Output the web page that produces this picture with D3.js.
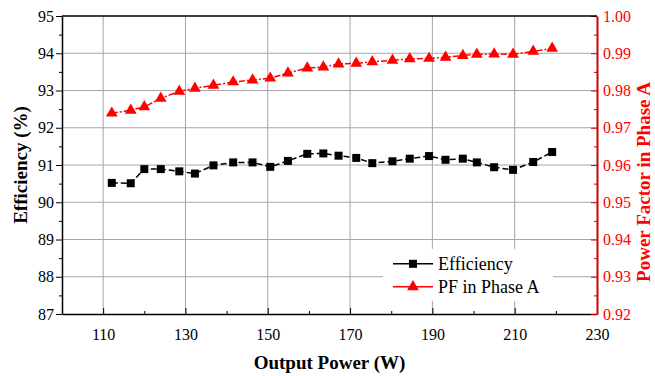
<!DOCTYPE html>
<html>
<head>
<meta charset="utf-8">
<script src="https://cdn.jsdelivr.net/npm/d3@7"></script>
<style>
  body { margin: 0; background: #fff; }
</style>
</head>
<body>
<div id="chart"></div>
<script>
// output power (W)
const power = [112.1, 116.7, 120.0, 124.0, 128.5, 132.3, 136.8, 141.6, 146.3, 150.6,
               154.9, 159.6, 163.5, 167.2, 171.5, 175.4, 180.3, 184.5, 189.2, 193.2,
               197.4, 200.8, 205.0, 209.6, 214.5, 219.1];
// efficiency (%)
const efficiency = [90.52, 90.51, 90.89, 90.89, 90.83, 90.77, 90.99, 91.07, 91.07, 90.95,
                    91.11, 91.30, 91.31, 91.25, 91.19, 91.05, 91.10, 91.17, 91.24, 91.14,
                    91.17, 91.07, 90.94, 90.87, 91.08, 91.35];
// power factor in phase A
const pf = [0.9739, 0.9747, 0.9756, 0.9779, 0.9798, 0.9806, 0.9814, 0.9823, 0.9828, 0.9833,
            0.9847, 0.9860, 0.9863, 0.9871, 0.9873, 0.9877, 0.9881, 0.9885, 0.9886, 0.9889,
            0.9894, 0.9897, 0.9898, 0.9897, 0.9905, 0.9913];

const xTicks = [110, 130, 150, 170, 190, 210, 230];
const effTicks = [87, 88, 89, 90, 91, 92, 93, 94, 95];
const pfTicks = [0.92, 0.93, 0.94, 0.95, 0.96, 0.97, 0.98, 0.99, 1.00];

const serif = 'Liberation Serif';

const width = 655, height = 376;
const margin = { top: 16, right: 58, bottom: 62, left: 62 };
const w = width - margin.left - margin.right,
      h = height - margin.top - margin.bottom;

const svg = d3.select('#chart').append('svg')
  .attr('width', width)
  .attr('height', height)
  .attr('font-family', serif);

const g = svg.append('g')
  .attr('transform', `translate(${margin.left},${margin.top})`);

const x = d3.scaleLinear().domain([100, 230]).range([0, w]);
const yL = d3.scaleLinear().domain([87, 95]).range([h, 0]);
const yR = d3.scaleLinear().domain([0.92, 1.00]).range([h, 0]);

// grid
g.append('g').selectAll('line')
  .data(xTicks.filter(d => d < 230))
  .enter().append('line')
  .attr('x1', d => x(d)).attr('x2', d => x(d))
  .attr('y1', 0).attr('y2', h)
  .attr('stroke', '#a6a6a6').attr('stroke-width', 1);

g.append('g').selectAll('line')
  .data(effTicks.filter(d => d > 87 && d < 95))
  .enter().append('line')
  .attr('x1', 0).attr('x2', w)
  .attr('y1', d => yL(d)).attr('y2', d => yL(d))
  .attr('stroke', '#a6a6a6').attr('stroke-width', 1);

// axes
const minorX = d3.range(100, 231, 10);
const xAxis = g.append('g')
  .attr('transform', `translate(0,${h})`)
  .call(d3.axisBottom(x).tickValues(minorX)
    .tickSizeInner(-3).tickSizeOuter(0)
    .tickFormat(d => xTicks.includes(d) ? d : ''));
xAxis.selectAll('.tick line')
  .attr('y2', d => xTicks.includes(d) ? -6 : -3);
xAxis.selectAll('text').attr('y', 15);

const minorL = d3.range(87, 95.01, 0.5);
const leftAxis = g.append('g')
  .call(d3.axisLeft(yL).tickValues(minorL)
    .tickSizeOuter(0)
    .tickFormat(d => effTicks.includes(d) ? d : ''));
leftAxis.selectAll('.tick line')
  .attr('x2', d => effTicks.includes(d) ? -6 : -3);
leftAxis.selectAll('text').attr('x', -8);

const minorR = d3.range(0, 17).map(i => +(0.92 + i * 0.005).toFixed(3));
const rightAxis = g.append('g')
  .attr('transform', `translate(${w},0)`)
  .call(d3.axisRight(yR).tickValues(minorR)
    .tickSizeOuter(0)
    .tickFormat(d => (Math.round(d * 1000) % 10 === 0) ? d3.format('.2f')(d) : ''));
rightAxis.selectAll('.tick line')
  .attr('x2', d => (Math.round(d * 1000) % 10 === 0) ? -6 : -3)
  .attr('stroke', '#d00000');
rightAxis.select('.domain').attr('stroke', '#d00000').attr('stroke-width', 2);
rightAxis.selectAll('text').attr('x', 6).attr('fill', '#ff0000');

[xAxis, leftAxis, rightAxis].forEach(a => {
  a.attr('font-family', serif).attr('font-size', 16);
});
xAxis.select('.domain').attr('stroke-width', 1.5);
leftAxis.select('.domain').attr('stroke-width', 1.5);

// top frame
g.append('line')
  .attr('x1', 0).attr('x2', w).attr('y1', 0).attr('y2', 0)
  .attr('stroke', '#000').attr('stroke-width', 1.5);

// series lines
const effLine = d3.line().x((d, i) => x(power[i])).y(d => yL(d));
const pfLine = d3.line().x((d, i) => x(power[i])).y(d => yR(d));

g.append('path').datum(efficiency)
  .attr('d', effLine)
  .attr('fill', 'none').attr('stroke', '#000')
  .attr('stroke-width', 1.5).attr('stroke-dasharray', '6,3');

g.append('path').datum(pf)
  .attr('d', pfLine)
  .attr('fill', 'none').attr('stroke', '#ff0000')
  .attr('stroke-width', 1.5).attr('stroke-dasharray', '6,2,2,2');

const sq = d3.symbol().type(d3.symbolSquare).size(64);
const tri = d3.symbol().type(d3.symbolTriangle).size(60);

g.append('g').selectAll('path')
  .data(efficiency).enter().append('path')
  .attr('d', sq)
  .attr('transform', (d, i) => `translate(${x(power[i])},${yL(d)})`)
  .attr('fill', '#000');

g.append('g').selectAll('path')
  .data(pf).enter().append('path')
  .attr('d', tri)
  .attr('transform', (d, i) => `translate(${x(power[i])},${yR(d)})`)
  .attr('fill', '#ff0000');

// legend
const legend = g.append('g').attr('transform', `translate(${x(178)},${yL(88.75)})`);
legend.append('rect')
  .attr('x', 0).attr('y', 0).attr('width', 170).attr('height', 52)
  .attr('fill', '#fff');
const items = [
  { label: 'Efficiency', color: '#000', sym: sq },
  { label: 'PF in Phase A', color: '#ff0000', sym: tri }
];
items.forEach((it, i) => {
  const row = legend.append('g').attr('transform', `translate(10,${15 + i * 23})`);
  row.append('line').attr('x1', 0).attr('x2', 40).attr('y1', 0).attr('y2', 0)
    .attr('stroke', it.color).attr('stroke-width', 1.5);
  row.append('path').attr('d', it.sym).attr('transform', 'translate(20,0)')
    .attr('fill', it.color);
  row.append('text').attr('x', 45).attr('y', 6)
    .attr('font-family', serif).attr('font-size', 18)
    .attr('fill', '#000')
    .text(it.label);
});

// axis titles
svg.append('text')
  .attr('x', margin.left + w / 2).attr('y', 369)
  .attr('text-anchor', 'middle')
  .attr('font-family', serif).attr('font-size', 19).attr('font-weight', 'bold')
  .text('Output Power (W)');

svg.append('text')
  .attr('transform', `translate(27,${margin.top + h / 2}) rotate(-90)`)
  .attr('text-anchor', 'middle')
  .attr('font-family', serif).attr('font-size', 19).attr('font-weight', 'bold')
  .text('Efficiency (%)');

svg.append('text')
  .attr('transform', `translate(650,182) rotate(-90)`)
  .attr('text-anchor', 'middle')
  .attr('fill', '#ff0000')
  .attr('font-family', serif).attr('font-size', 19).attr('font-weight', 'bold')
  .text('Power Factor in Phase A');
</script>
</body>
</html>
